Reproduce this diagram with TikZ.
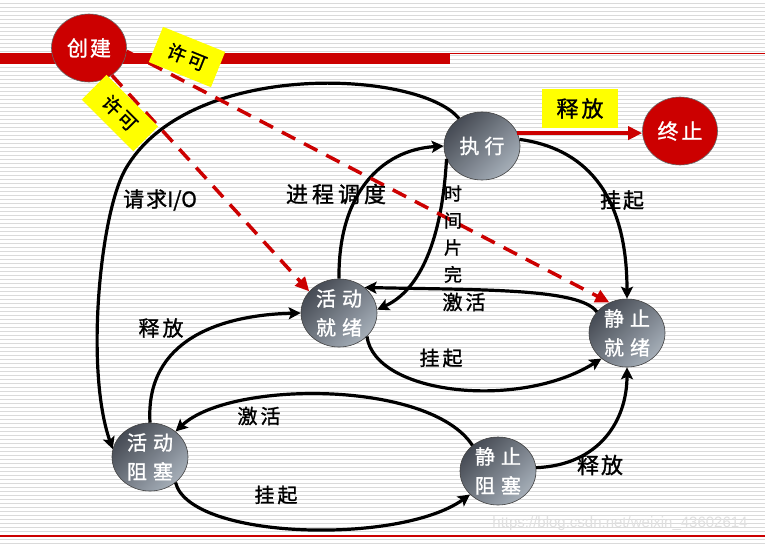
\documentclass[tikz,border=0pt]{standalone}
\usepackage{fontspec}
\setmainfont{Noto Sans CJK SC}
\newfontfamily\cjkb{Noto Sans CJK SC}[FakeBold=1.2]
\newfontfamily\wmfont{Liberation Sans}
\usetikzlibrary{arrows.meta,shapes.geometric}
\definecolor{redc}{HTML}{CC0000}
\definecolor{lineg}{HTML}{DADADA}
\definecolor{ndark}{HTML}{464B54}
\definecolor{nlight}{HTML}{A5AEB8}
\definecolor{ylw}{HTML}{FFFF00}
\tikzset{
 state/.style={ellipse, minimum width=76pt, minimum height=68pt, inner sep=0pt,
   draw=black!75, line width=0.6pt, top color=ndark, bottom color=nlight, shading angle=45,
   text=white, font=\cjkb\fontsize{20}{29}\selectfont, align=center},
 endst/.style={ellipse, minimum width=75pt, minimum height=68pt, inner sep=0pt,
   fill=redc, draw=black!60, line width=0.6pt, text=white, font=\cjkb\fontsize{21}{25}\selectfont},
 lbl/.style={text=black, inner sep=0pt, font=\cjkb\fontsize{20}{26}\selectfont},
 ybox/.style={fill=ylw, inner sep=0pt, font=\cjkb\fontsize{19}{23}\selectfont},
 flow/.style={line width=3.2pt, -{Stealth[length=12pt,width=12pt,inset=2.5pt]}},
 permit/.style={redc, line width=3.5pt, dash pattern=on 15pt off 10pt,
   -{Triangle[length=14pt,width=13pt]}},
 release/.style={redc, line width=3.5pt, -{Triangle[length=14pt,width=13pt]}},
}
\begin{document}
\begin{tikzpicture}[x=1pt,y=-1pt]
\useasboundingbox (0,0) rectangle (765,544);
\fill[white] (0,0) rectangle (765,544);
\foreach \yy in {3.5,7.5,...,543.5} \draw[lineg, line width=0.9pt] (0,\yy) -- (765,\yy);
\fill[redc] (0,53) rectangle (450,64);
\draw[redc, line width=1.2pt] (450,53.5) -- (765,53.5);
\draw[redc, line width=1.2pt] (0,536) -- (765,536);
\node[text=black!12, font=\wmfont\fontsize{15}{18}\selectfont, inner sep=0pt] (wm) at (620,524) {https://blog.csdn.net/weixin\_43602614};

% states
\node[endst] (create) at (89,48) {创\kern2pt 建};
\node[endst] (term) at (680,131) {终\kern3pt 止};
\node[state] (exec) at (482,146) {执\kern5pt 行};
\node[state] (ar) at (339,313) {活\kern6pt 动\\就\kern6pt 绪};
\node[state] (sr) at (627,333) {静\kern6pt 止\\就\kern6pt 绪};
\node[state] (ab) at (150,457) {活\kern6pt 动\\阻\kern6pt 塞};
\node[state] (sb) at (498,471) {静\kern6pt 止\\阻\kern6pt 塞};

% black transitions
\draw[flow] (exec.130) .. controls (420,70) and (188,58) .. (125,170)
   .. controls (100,215) and (85,370) .. (ab.168);
\draw[flow] (ar.north) .. controls (338,195) and (380,150) .. (exec.west);
\draw[flow] (exec.200) .. controls (442,240) and (420,290) .. (ar.5);
\draw[flow] (exec.10) .. controls (582,148) and (627,190) .. (sr.north);
\draw[flow] (sr.145) .. controls (580,288) and (480,290) .. (ar.45);
\draw[flow] (ar.-40) .. controls (375,395) and (520,410) .. (sr.225);
\draw[flow] (ab.north) .. controls (145,340) and (220,315) .. (ar.west);
\draw[flow] (sb.135) .. controls (430,380) and (230,380) .. (ab.45);
\draw[flow] (ab.-45) .. controls (190,540) and (400,545) .. (sb.220);
\draw[flow] (sb.5) .. controls (600,465) and (627,420) .. (sr.south);

% red transitions
\draw[release] (exec.20) -- (exec.20 -| term.west);
\draw[permit] (create.-50) -- (ar.144);
\draw[permit] (create.-5) -- (sr.120);

% labels
\node[lbl, font=\cjkb\fontsize{21}{26}\selectfont] (lio) at (160,200) {请\kern2pt 求I/O};
\node[lbl, font=\cjkb\fontsize{22}{26}\selectfont] (lsched) at (336,194) {进\kern4pt 程\kern4pt 调\kern4pt 度};
\node[lbl, font=\cjkb\fontsize{18}{27}\selectfont, align=center] (lslice) at (453,234) {时\\间\\片\\完};
\node[lbl] (lact1) at (464,302) {激\kern3pt 活};
\node[lbl, font=\cjkb\fontsize{21}{26}\selectfont] (lsus1) at (622,200) {挂\kern2pt 起};
\node[lbl] (lsus2) at (441,358) {挂\kern3pt 起};
\node[lbl, font=\cjkb\fontsize{21}{26}\selectfont] (lrel1) at (161,328) {释\kern3pt 放};
\node[lbl] (lact2) at (259,416) {激\kern3pt 活};
\node[lbl] (lsus3) at (276,495) {挂\kern3pt 起};
\node[lbl, font=\cjkb\fontsize{22}{26}\selectfont] (lrel2) at (600,465) {释\kern2pt 放};

% yellow labels
\node[ybox, minimum width=67pt, minimum height=38pt, rotate=-22] (p1) at (187,57) {许\kern3pt 可};
\node[ybox, minimum width=73pt, minimum height=35pt, rotate=-45] (p2) at (120,113) {许\kern3pt 可};
\node[ybox, minimum width=76pt, minimum height=39pt, font=\cjkb\fontsize{22}{26}\selectfont] (p3) at (580,108.5) {释\kern3pt 放};
\end{tikzpicture}
\end{document}
